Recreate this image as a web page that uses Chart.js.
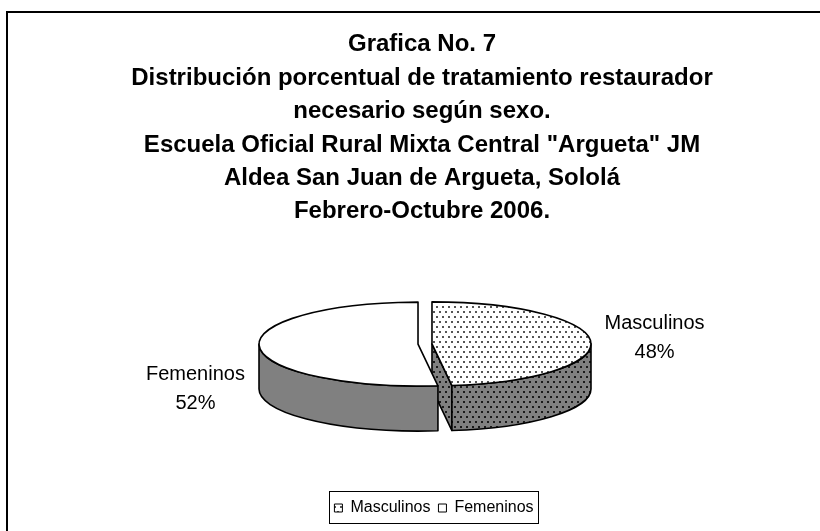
<!DOCTYPE html>
<html>
<head>
<meta charset="utf-8">
<script src="https://cdn.jsdelivr.net/npm/chart.js@4.4.1/dist/chart.umd.min.js"></script>
<style>
  html, body { margin: 0; padding: 0; background: #fff; }
</style>
</head>
<body>
<canvas id="chart" width="820" height="531"></canvas>
<script>
const titleLines = [
    'Grafica No. 7',
    'Distribución porcentual de tratamiento restaurador',
    'necesario según sexo.',
    'Escuela Oficial Rural Mixta Central "Argueta" JM',
    'Aldea San Juan de Argueta, Sololá',
    'Febrero-Octubre 2006.'
];
const categories = ['Masculinos', 'Femeninos'];
const percentages = [48, 52];

// geometria del pastel 3D (en pixeles)
const CX = 425, CY = 344, RX = 159, RY = 42, DEPTH = 45, EXPLODE = 7;
const LEGEND_SHIFT = 12;
const FONT = '"Liberation Sans", Arial, sans-serif';

function dotPattern(bg, dot) {
    const c = document.createElement('canvas');
    c.width = 6; c.height = 10;
    const g = c.getContext('2d');
    g.fillStyle = bg; g.fillRect(0, 0, 6, 10);
    g.fillStyle = dot;
    g.fillRect(1, 1, 2, 2);
    g.fillRect(4, 6, 2, 2);
    return g.createPattern(c, 'repeat');
}
const topPattern = dotPattern('#ffffff', '#555555');
const sidePattern = dotPattern('#808080', '#1a1a1a');
const topFills = [topPattern, '#ffffff'];
const sideFills = [sidePattern, '#808080'];

const framePlugin = {
    id: 'frame',
    afterLayout(chart) {
        // la leyenda va un poco a la derecha del centro del titulo
        if (chart.legend) {
            chart.legend.left += LEGEND_SHIFT;
            chart.legend.right += LEGEND_SHIFT;
        }
    },
    beforeDraw(chart) {
        const ctx = chart.ctx;
        ctx.save();
        ctx.fillStyle = '#fff';
        ctx.fillRect(0, 0, chart.width, chart.height);
        ctx.strokeStyle = '#000';
        ctx.lineWidth = 2;
        ctx.strokeRect(7, 12, 900, 600);
        ctx.restore();
    },
    afterDraw(chart) {
        const lg = chart.legend;
        if (!lg || !lg.legendHitBoxes.length) return;
        const boxes = lg.legendHitBoxes;
        const left = Math.min(...boxes.map(b => b.left)) - 5;
        const right = Math.max(...boxes.map(b => b.left + b.width)) + 5;
        const ctx = chart.ctx;
        ctx.save();
        ctx.strokeStyle = '#000';
        ctx.lineWidth = 1;
        ctx.strokeRect(Math.round(left) + 0.5, Math.round(lg.top) - 0.5, Math.round(right - left), Math.round(lg.height) - 2);
        ctx.restore();
    }
};

const pie3dPlugin = {
    id: 'pie3d',
    beforeDatasetsDraw(chart) {
        const ctx = chart.ctx;
        const arcs = chart.getDatasetMeta(0).data;
        const values = chart.data.datasets[0].data;
        const total = values.reduce((a, b) => a + b, 0);
        const k = RY / RX;

        arcs.forEach((el, i) => {
            const a0 = el.startAngle, a1 = el.endAngle;
            const mid = (a0 + a1) / 2;
            const cx = CX + Math.cos(mid) * EXPLODE;
            const cy = CY + Math.sin(mid) * EXPLODE * k;

            ctx.save();
            ctx.strokeStyle = '#000';
            ctx.lineWidth = 1.6;
            ctx.lineJoin = 'round';
            ctx.fillStyle = sideFills[i];

            // caras de corte visibles
            [[a0, a0 - Math.PI / 2], [a1, a1 + Math.PI / 2]].forEach(([a, n]) => {
                if (Math.sin(n) <= 0.01) return;
                const px = cx + RX * Math.cos(a), py = cy + RY * Math.sin(a);
                ctx.beginPath();
                ctx.moveTo(cx, cy);
                ctx.lineTo(px, py);
                ctx.lineTo(px, py + DEPTH);
                ctx.lineTo(cx, cy + DEPTH);
                ctx.closePath();
                ctx.fill();
                ctx.stroke();
            });

            // pared frontal
            for (let t = -1; t <= 1; t++) {
                const s = Math.max(a0, t * 2 * Math.PI);
                const e = Math.min(a1, t * 2 * Math.PI + Math.PI);
                if (e <= s) continue;
                ctx.beginPath();
                ctx.ellipse(cx, cy, RX, RY, 0, s, e, false);
                ctx.lineTo(cx + RX * Math.cos(e), cy + RY * Math.sin(e) + DEPTH);
                ctx.ellipse(cx, cy + DEPTH, RX, RY, 0, e, s, true);
                ctx.closePath();
                ctx.fill();
                ctx.stroke();
            }

            // cara superior dibujada por el propio ArcElement, aplastada
            const m = new DOMMatrix()
                .translate(cx, cy)
                .scale(RX / el.outerRadius, RY / el.outerRadius)
                .translate(-el.x, -el.y);
            const fill = topFills[i];
            if (fill instanceof CanvasPattern) fill.setTransform(m.inverse());
            ctx.save();
            ctx.transform(m.a, m.b, m.c, m.d, m.e, m.f);
            el.draw(ctx);
            ctx.restore();
            if (fill instanceof CanvasPattern) fill.setTransform(new DOMMatrix());

            ctx.beginPath();
            ctx.moveTo(cx, cy);
            ctx.ellipse(cx, cy, RX, RY, 0, a0, a1, false);
            ctx.closePath();
            ctx.stroke();
            ctx.restore();

            // etiqueta
            const lx = cx + Math.cos(mid) * (RX + 64);
            const ly = cy + RY * Math.sin(mid) + (Math.cos(mid) < 0 ? DEPTH - 3 : -4);
            ctx.save();
            ctx.fillStyle = '#000';
            ctx.font = '20px ' + FONT;
            ctx.textAlign = 'center';
            ctx.textBaseline = 'middle';
            ctx.fillText(chart.data.labels[i], lx, ly - 14);
            ctx.fillText(Math.round(values[i] / total * 100) + '%', lx, ly + 15);
            ctx.restore();
        });
        return false;
    }
};

Chart.defaults.color = '#000';
Chart.defaults.font.family = FONT;

new Chart(document.getElementById('chart'), {
    type: 'pie',
    data: {
        labels: categories,
        datasets: [{
            data: percentages,
            backgroundColor: topFills,
            borderWidth: 0,
            offset: 0,
            hoverOffset: 0
        }]
    },
    options: {
        responsive: false,
        animation: false,
        events: [],
        layout: { padding: { left: 24, right: 0, top: 0, bottom: 5 } },
        plugins: {
            title: {
                display: true,
                text: titleLines,
                color: '#000',
                font: { family: FONT, size: 24, weight: 'bold', lineHeight: '33.4px' },
                padding: { top: 28, bottom: 10 }
            },
            legend: {
                position: 'bottom',
                labels: {
                    color: '#000',
                    font: { family: FONT, size: 16 },
                    boxWidth: 8,
                    boxHeight: 8,
                    padding: 8,
                    generateLabels(chart) {
                        const items = Chart.overrides.pie.plugins.legend.labels.generateLabels(chart);
                        items.forEach(it => { it.strokeStyle = '#000'; it.lineWidth = 1; });
                        return items;
                    }
                }
            },
            tooltip: { enabled: false }
        }
    },
    plugins: [framePlugin, pie3dPlugin]
});
</script>
</body>
</html>
